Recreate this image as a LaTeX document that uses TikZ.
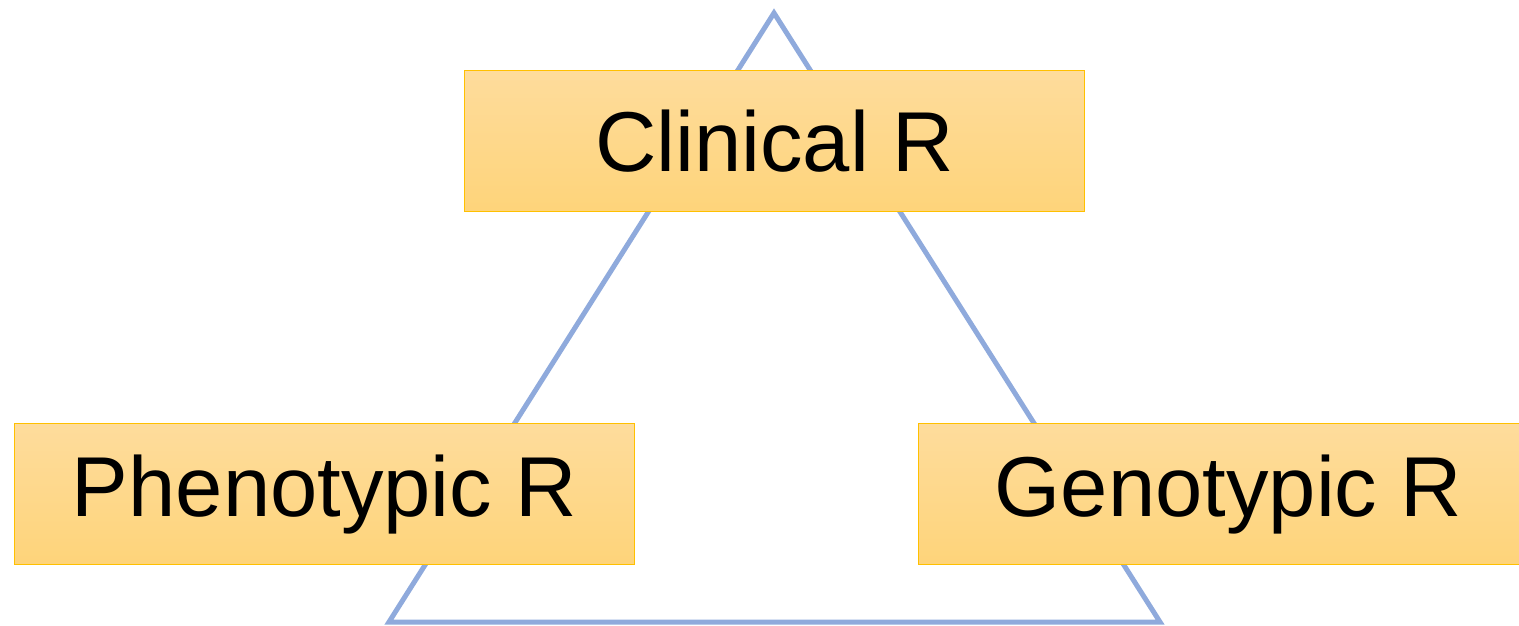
\documentclass[tikz,border=0pt]{standalone}
\usepackage{fontspec}
\setmainfont{Liberation Sans}
\definecolor{tri}{HTML}{8FAADC}
\definecolor{boxtop}{HTML}{FEDC9C}
\definecolor{boxbot}{HTML}{FED47A}
\definecolor{boxline}{HTML}{FFC000}
\begin{document}
\begin{tikzpicture}[x=1pt,y=-1pt,
  rbox/.style={draw=boxline,line width=1.2pt,top color=boxtop,bottom color=boxbot,
    minimum width=620pt,minimum height=141pt,inner sep=0pt,anchor=north west,
    font=\fontsize{85}{100}\selectfont}]
\useasboundingbox (0,0) rectangle (1519,626);
\begin{scope}
\clip (0,0) rectangle (1519,626);
\coordinate (apex) at (774,13);
\coordinate (bl) at (389,622);
\coordinate (br) at (1160,622);
\draw[tri,line width=5pt,line join=miter] (apex) -- (bl) -- (br) -- cycle;
\node[rbox] (clin) at (464,70) {Clinical R};
\node[rbox] (pheno) at (14,423) {Phenotypic R};
\node[rbox] (geno) at (918,423) {Genotypic R};
\end{scope}
\end{tikzpicture}
\end{document}
